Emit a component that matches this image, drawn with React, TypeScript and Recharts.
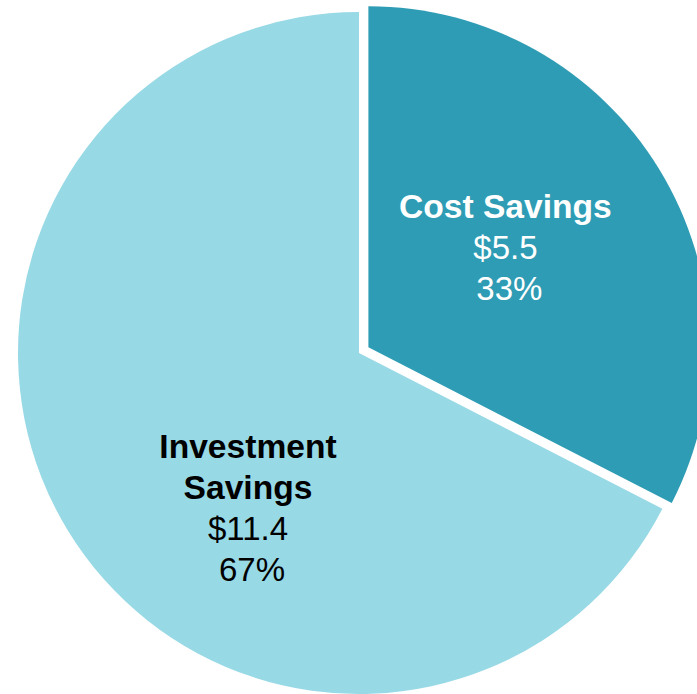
import { PieChart, Pie, Cell } from 'recharts';

const categories = ['Cost Savings', 'Investment Savings'];
const savings = [5.5, 11.4];
const labelLines = [['Cost Savings'], ['Investment', 'Savings']];

const data = categories.map((name, i) => ({ name, value: savings[i] }));

const COLORS = ['#2E9CB4', '#98D9E6'];
const TEXT = ['#ffffff', '#000000'];
// label anchor (centre x, first baseline) relative to each slice's pie centre
const LABEL_OFFSET = [
  [137, -129],
  [-111, 105],
];
const LINE = 41;
const FONT = '"Liberation Sans", Arial, sans-serif';

const CX = 359;
const CY = 353;
const R = 341;
const EXPLODE = 11;

// the cost slice is pulled out along its bisector
const total = savings.reduce((a, b) => a + b, 0);
const mid = ((90 - (360 * savings[0]) / total / 2) * Math.PI) / 180;
const ox = EXPLODE * Math.cos(mid);
const oy = -EXPLODE * Math.sin(mid);

const renderLabel = (show: number) => (props: any) => {
  const { cx, cy, index, value, percent } = props;
  if (index !== show) return null;
  const [dx, dy] = LABEL_OFFSET[index];
  const x = cx + dx;
  const lines = labelLines[index];
  return (
    <text
      x={x}
      y={cy + dy}
      textAnchor="middle"
      fill={TEXT[index]}
      fontFamily={FONT}
      fontSize={33}
    >
      {lines.map((l, k) => (
        <tspan key={k} x={x} dy={k === 0 ? 0 : LINE} fontWeight="bold" fontSize={33.6}>
          {l}
        </tspan>
      ))}
      <tspan x={x} dy={LINE}>${value}</tspan>
      <tspan x={x + 4} dy={LINE}>{Math.round(percent * 100)}%</tspan>
    </text>
  );
};

export default function App() {
  return (
    <div style={{ position: 'absolute', left: 0, top: 0, width: 697, height: 694, background: '#fff' }}>
      <PieChart width={697} height={694} margin={{ top: 0, right: 0, bottom: 0, left: 0 }}>
        <Pie
          data={data}
          dataKey="value"
          nameKey="name"
          cx={CX}
          cy={CY}
          outerRadius={R}
          startAngle={90}
          endAngle={-270}
          stroke="none"
          labelLine={false}
          label={renderLabel(1)}
          isAnimationActive={false}
        >
          {data.map((d, i) => (
            <Cell key={d.name} fill={i === 1 ? COLORS[1] : 'none'} />
          ))}
        </Pie>
        <Pie
          data={data}
          dataKey="value"
          nameKey="name"
          cx={CX + ox}
          cy={CY + oy}
          outerRadius={R}
          startAngle={90}
          endAngle={-270}
          stroke="none"
          labelLine={false}
          label={renderLabel(0)}
          isAnimationActive={false}
        >
          {data.map((d, i) => (
            <Cell key={d.name} fill={i === 0 ? COLORS[0] : 'none'} />
          ))}
        </Pie>
      </PieChart>
    </div>
  );
}
